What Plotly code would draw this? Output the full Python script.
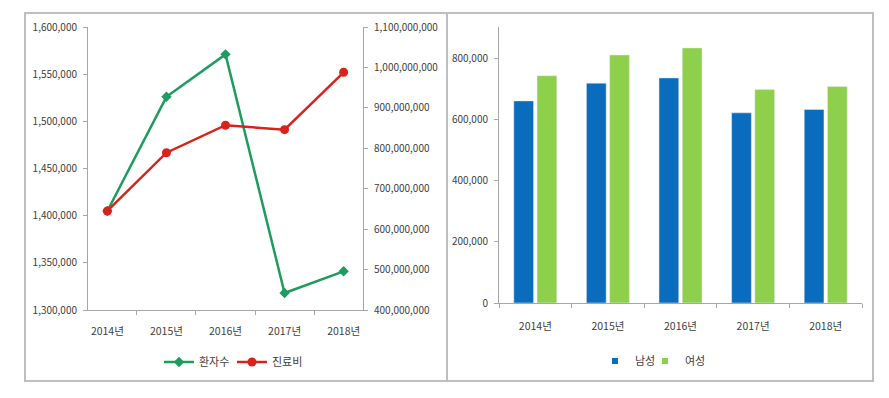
import plotly.graph_objects as go

years = ["2014년", "2015년", "2016년", "2017년", "2018년"]
patients = [1405000, 1526000, 1571000, 1318000, 1341000]
costs = [645000000, 789000000, 857000000, 846000000, 988000000]
male = [660000, 718000, 735000, 621000, 632000]
female = [742000, 810000, 833000, 697000, 707000]

W, H = 889, 398
OFF = 8  # page body margin offset
def px(x): return (x - OFF) / W
def py(y): return 1 - (y - OFF) / H

FONT = "Noto Sans CJK KR"
TXT = "#404040"
AX = "#A6A6A6"
BLUE = "#0A6CBC"
LGREEN = "#8ECF4C"

fig = go.Figure()
fig.add_trace(go.Scatter(x=years, y=patients, name="환자수", mode="lines+markers",
                         line=dict(color="#1E9B5E", width=2.5),
                         marker=dict(symbol="diamond", size=8, color="#1E9B5E"),
                         xaxis="x", yaxis="y", legend="legend"))
fig.add_trace(go.Scatter(x=years, y=costs, name="진료비", mode="lines+markers",
                         line=dict(color="#D9221C", width=2.5),
                         marker=dict(symbol="circle", size=9, color="#D9221C"),
                         xaxis="x", yaxis="y2", legend="legend3"))
fig.add_trace(go.Bar(x=years, y=male, name="남성", marker_color=BLUE,
                     xaxis="x2", yaxis="y3", showlegend=False))
fig.add_trace(go.Bar(x=years, y=female, name="여성", marker_color=LGREEN,
                     xaxis="x2", yaxis="y3", showlegend=False))
# legend entries with small square keys (as in the reference)
fig.add_trace(go.Scatter(x=[None], y=[None], name="남성", mode="markers",
                         marker=dict(symbol="square", size=6, color=BLUE),
                         xaxis="x2", yaxis="y3", legend="legend2"))
fig.add_trace(go.Scatter(x=[None], y=[None], name="여성", mode="markers",
                         marker=dict(symbol="square", size=6, color=LGREEN),
                         xaxis="x2", yaxis="y3", legend="legend4"))

numfont = dict(family=FONT, size=10, color=TXT)
catfont = dict(family=FONT, size=10.5, color=TXT)
common = dict(showgrid=False, zeroline=False, showline=True, linecolor=AX, linewidth=1,
              ticks="outside", ticklen=4, tickcolor=AX, automargin=False)

def leg(xpix, ypix):
    return dict(orientation="h", x=px(xpix), xanchor="left", y=py(ypix), yanchor="middle",
                font=dict(family=FONT, size=11, color=TXT), bgcolor="rgba(0,0,0,0)",
                itemwidth=30)

fig.update_layout(
    width=W, height=H, margin=dict(l=0, r=0, t=0, b=0, autoexpand=False),
    paper_bgcolor="white", plot_bgcolor="white",
    font=dict(family=FONT, color=TXT),
    barmode="group", bargap=0.36, bargroupgap=0.15,
    xaxis=dict(domain=[px(88), px(363)], anchor="y", type="category",
               tickson="boundaries", tickfont=catfont, ticklabelstandoff=11, **common),
    yaxis=dict(domain=[py(310), py(27)], anchor="x", range=[1300000, 1600000],
               dtick=50000, tickformat=",d", tickfont=numfont, ticklabelstandoff=4, **common),
    yaxis2=dict(domain=[py(310), py(27)], anchor="x", overlaying="y", side="right",
                range=[400000000, 1100000000], dtick=100000000, tickformat=",d",
                tickfont=numfont, ticklabelstandoff=4, **common),
    xaxis2=dict(domain=[px(499), px(862)], anchor="y3", type="category",
                tickson="boundaries", tickfont=catfont, ticklabelstandoff=13, **common),
    yaxis3=dict(domain=[py(303), py(27.4)], anchor="x2", range=[0, 900000],
                tickvals=[0, 200000, 400000, 600000, 800000], tickformat=",d",
                tickfont=numfont, ticklabelstandoff=4, **common),
    legend=leg(159, 362),
    legend3=leg(232, 362),
    legend2=leg(595, 361),
    legend4=leg(645, 361),
    shapes=[
        dict(type="rect", xref="paper", yref="paper", x0=px(25), x1=px(447), y0=py(381), y1=py(13),
             line=dict(color="#BFBFBF", width=2)),
        dict(type="rect", xref="paper", yref="paper", x0=px(447), x1=px(873), y0=py(381), y1=py(13),
             line=dict(color="#BFBFBF", width=2)),
    ],
)

fig.write_html("out.html")
